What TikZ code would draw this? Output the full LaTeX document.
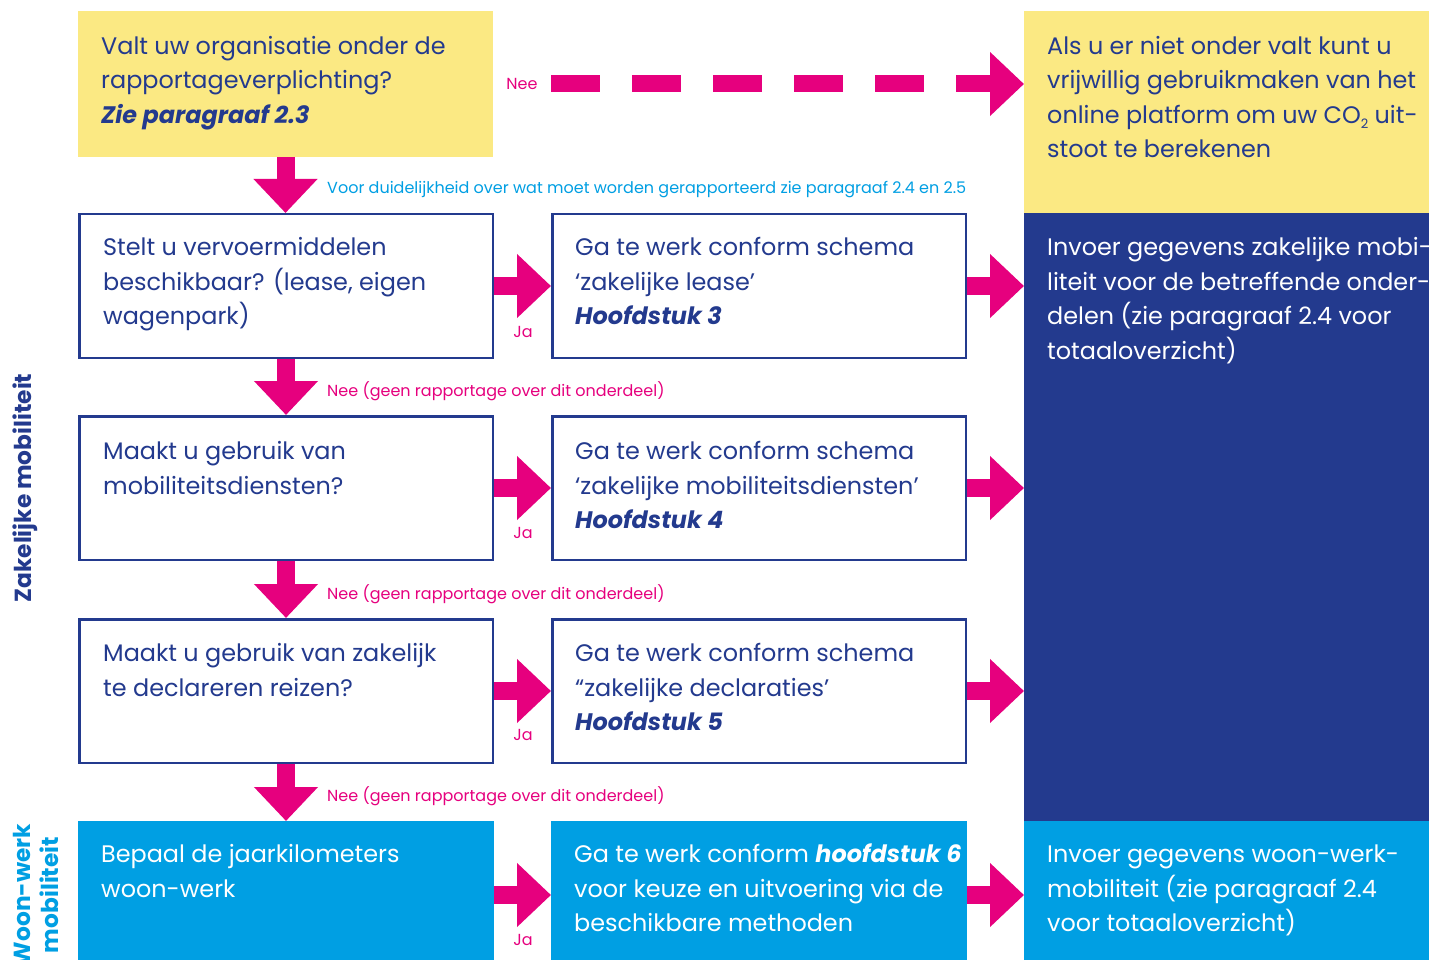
\documentclass[tikz,border=0pt]{standalone}
\usepackage{fontspec}
\setmainfont{Poppins}
\usetikzlibrary{arrows.meta}
\definecolor{mypink}{HTML}{E6007E}
\definecolor{mynavy}{HTML}{233A8E}
\definecolor{myyellow}{HTML}{FBE983}
\definecolor{mysky}{HTML}{009FE3}
\newcommand{\subtwo}{\raisebox{-5pt}{\fontsize{13}{13}\selectfont 2}}
\tikzset{
  fillbox/.style={fill=#1, draw=none, inner sep=0pt, outer sep=0pt},
  linebox/.style={fill=white, draw=mynavy, line width=2.5pt, inner sep=0pt},
  txt/.style={anchor=north west, inner sep=0pt, align=left, font=\fontsize{23.9}{34.5}\selectfont},
  lbl/.style={inner sep=0pt, font=\fontsize{16}{19}\selectfont},
  fat/.style={mypink, line width=18pt, -{Triangle[length=34pt,width=62pt]}},
  side/.style={rotate=90, inner sep=0pt, align=center, font=\bfseries\fontsize{23.3}{28}\selectfont},
}
\begin{document}
\begin{tikzpicture}[x=1pt,y=-1pt]
\useasboundingbox[fill=white] (0,0) rectangle (1429,960);
% right column
\node[fillbox=myyellow, minimum width=405pt, minimum height=202pt] (r1) at (1226.5,112) {};
\node[fillbox=mynavy, minimum width=405pt, minimum height=608pt] (zb) at (1226.5,517) {};
\node[fillbox=mysky, minimum width=405pt, minimum height=148pt] (wr) at (1226.5,895) {};
% top question
\node[fillbox=myyellow, minimum width=415pt, minimum height=146pt] (q1) at (285.5,84) {};
% left column
\node[linebox, minimum width=413.5pt, minimum height=143.5pt] (b1) at (286,286) {};
\node[linebox, minimum width=413.5pt, minimum height=143.5pt] (b2) at (286,488) {};
\node[linebox, minimum width=413.5pt, minimum height=143.5pt] (b3) at (286,691) {};
\node[fillbox=mysky, minimum width=416pt, minimum height=148pt] (b4) at (286,895) {};
% middle column
\node[linebox, minimum width=413.5pt, minimum height=143.5pt] (m1) at (759,286) {};
\node[linebox, minimum width=413.5pt, minimum height=143.5pt] (m2) at (759,488) {};
\node[linebox, minimum width=413.5pt, minimum height=143.5pt] (m3) at (759,691) {};
\node[fillbox=mysky, minimum width=416pt, minimum height=148pt] (m4) at (759,895) {};
% texts
\node[txt, mynavy] (q1t) at (101,29.85) {\strut Valt uw organisatie onder de\\rapportageverplichting?\\\textbf{\textit{Zie paragraaf 2.3}}};
\node[txt, mynavy] (r1t) at (1047,29.85) {\strut Als u er niet onder valt kunt u\\vrijwillig gebruikmaken van het\\online platform om uw CO\subtwo{} uit-\\stoot te berekenen};
\node[txt, white] (zbt) at (1047,231.35) {\strut Invoer gegevens zakelijke mobi-\\liteit voor de betreffende onder-\\delen (zie paragraaf 2.4 voor\\totaaloverzicht)};
\node[txt, white] (wrt) at (1047,838.35) {\strut Invoer gegevens woon-werk-\\mobiliteit (zie paragraaf 2.4\\voor totaaloverzicht)};
\node[txt, mynavy] (b1t) at (103,231.35) {\strut Stelt u vervoermiddelen\\beschikbaar? (lease, eigen\\wagenpark)};
\node[txt, mynavy] (b2t) at (103,435.35) {\strut Maakt u gebruik van\\mobiliteitsdiensten?};
\node[txt, mynavy] (b3t) at (103,637.35) {\strut Maakt u gebruik van zakelijk\\te declareren reizen?};
\node[txt, white] (b4t) at (101,838.35) {\strut Bepaal de jaarkilometers\\woon-werk};
\node[txt, mynavy] (m1t) at (575,231.35) {\strut Ga te werk conform schema\\‘zakelijke lease’\\\textbf{\textit{Hoofdstuk 3}}};
\node[txt, mynavy] (m2t) at (575,435.35) {\strut Ga te werk conform schema\\‘zakelijke mobiliteitsdiensten’\\\textbf{\textit{Hoofdstuk 4}}};
\node[txt, mynavy] (m3t) at (575,637.35) {\strut Ga te werk conform schema\\“zakelijke declaraties’\\\textbf{\textit{Hoofdstuk 5}}};
\node[txt, white] (m4t) at (574,838.35) {\strut Ga te werk conform \textbf{\textit{hoofdstuk 6}}\\voor keuze en uitvoering via de\\beschikbare methoden};
% side labels
\node[side, mynavy] (zm) at (25,488) {Zakelijke mobiliteit};
\node[side, mysky] (wm) at (36,895) {Woon-werk\\mobiliteit};
% arrows
\draw[mypink, line width=17pt, dash pattern=on 49pt off 32pt, -{Triangle[length=34pt,width=62pt]}] ([xshift=58pt]q1.east) -- (q1.east -| r1.west);
\draw[fat] (q1.south) -- (q1.south |- b1.north);
\draw[fat] (b1.south) -- (b2.north);
\draw[fat] (b2.south) -- (b3.north);
\draw[fat] (b3.south) -- (b4.north);
\draw[fat] (b1.east) -- (m1.west);
\draw[fat] (b2.east) -- (m2.west);
\draw[fat] (b3.east) -- (m3.west);
\draw[fat] (b4.east) -- (m4.west);
\draw[fat] (m1.east) -- (m1.east -| zb.west);
\draw[fat] (m2.east) -- (m2.east -| zb.west);
\draw[fat] (m3.east) -- (m3.east -| zb.west);
\draw[fat] (m4.east) -- (m4.east -| wr.west);
% labels
\node[lbl, mypink] (nee0) at (522,84) {Nee};
\node[lbl, mysky, anchor=west] (info) at (327,189.5) {Voor duidelijkheid over wat moet worden gerapporteerd zie paragraaf 2.4 en 2.5};
\node[lbl, mypink, anchor=west] (nee1) at (327,391) {Nee (geen rapportage over dit onderdeel)};
\node[lbl, mypink, anchor=west] (nee2) at (327,594) {Nee (geen rapportage over dit onderdeel)};
\node[lbl, mypink, anchor=west] (nee3) at (327,796) {Nee (geen rapportage over dit onderdeel)};
\node[lbl, mypink] (ja1) at (523,332) {Ja};
\node[lbl, mypink] (ja2) at (523,533) {Ja};
\node[lbl, mypink] (ja3) at (523,735) {Ja};
\node[lbl, mypink] (ja4) at (523,940) {Ja};
\end{tikzpicture}
\end{document}
